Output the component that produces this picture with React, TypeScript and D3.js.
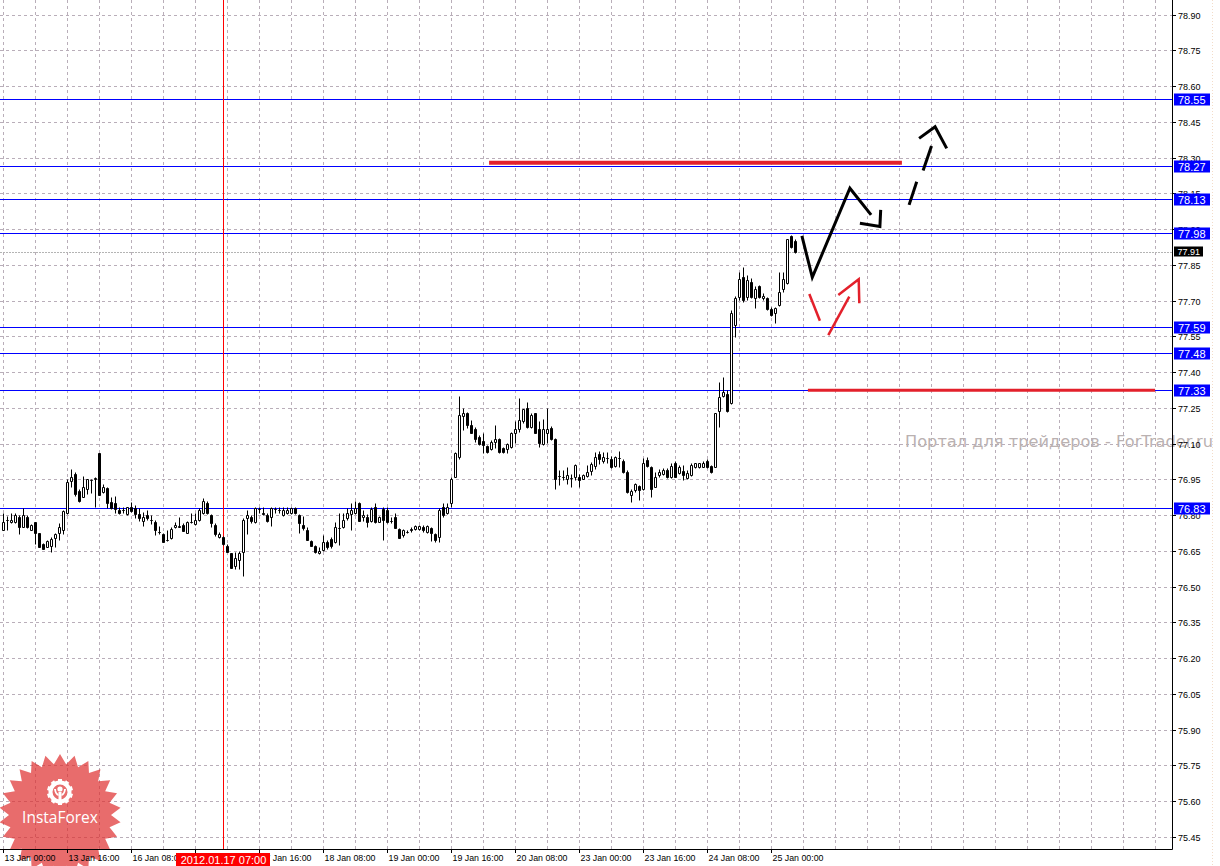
import React from 'react';
import * as d3 from 'd3';

// ---------- DATA (USD/JPY H1, 13 Jan 2012 00:00 .. 25 Jan 2012 06:00) ----------
const opens = [
  76.740, 76.780, 76.770, 76.770, 76.793, 76.752, 76.793, 76.740, 76.770, 76.724,
  76.679, 76.668, 76.673, 76.703, 76.726, 76.740, 76.808, 76.942, 76.975, 76.902,
  76.877, 76.910, 76.947, 76.950, 77.062, 76.899, 76.915, 76.857, 76.850, 76.822,
  76.823, 76.805, 76.836, 76.829, 76.806, 76.775, 76.801, 76.780, 76.770, 76.731,
  76.720, 76.696, 76.704, 76.749, 76.752, 76.759, 76.726, 76.770, 76.764, 76.780,
  76.808, 76.850, 76.801, 76.759, 76.707, 76.710, 76.672, 76.640, 76.588, 76.612,
  76.647, 76.789, 76.793, 76.770, 76.826, 76.808, 76.801, 76.791, 76.826, 76.822,
  76.801, 76.811, 76.808, 76.830, 76.800, 76.759, 76.740, 76.693, 76.670, 76.640,
  76.654, 76.689, 76.700, 76.689, 76.745, 76.749, 76.787, 76.805, 76.808, 76.850,
  76.791, 76.793, 76.777, 76.833, 76.773, 76.826, 76.822, 76.777, 76.793, 76.743,
  76.717, 76.730, 76.741, 76.742, 76.741, 76.752, 76.731, 76.745, 76.721, 76.707,
  76.833, 76.808, 76.850, 76.959, 77.045, 77.216, 77.227, 77.178, 77.160, 77.129,
  77.112, 77.090, 77.076, 77.108, 77.118, 77.083, 77.077, 77.087, 77.146, 77.160,
  77.196, 77.248, 77.171, 77.227, 77.160, 77.098, 77.143, 77.168, 77.118, 76.965,
  76.962, 76.950, 76.958, 76.959, 76.959, 76.954, 76.964, 76.987, 77.006, 77.055,
  77.029, 77.040, 77.035, 77.007, 77.040, 77.029, 76.983, 76.885, 76.906, 76.923,
  76.909, 77.032, 77.001, 76.920, 76.969, 76.973, 76.990, 76.959, 77.021, 76.979,
  76.987, 76.955, 76.968, 77.001, 77.001, 77.004, 77.029, 77.007, 77.004, 77.239,
  77.302, 77.309, 77.270, 77.598, 77.717, 77.798, 77.717, 77.780, 77.710, 77.762,
  77.710, 77.710, 77.664, 77.647, 77.682, 77.748, 77.776, 77.971, 77.952,
];
const highs = [
  76.808, 76.796, 76.808, 76.810, 76.800, 76.830, 76.799, 76.762, 76.773, 76.726,
  76.682, 76.696, 76.710, 76.726, 76.768, 76.822, 76.950, 76.996, 76.982, 76.910,
  76.964, 76.953, 76.953, 76.961, 77.062, 76.930, 76.920, 76.878, 76.880, 76.833,
  76.833, 76.836, 76.857, 76.843, 76.829, 76.815, 76.822, 76.801, 76.780, 76.754,
  76.724, 76.738, 76.752, 76.770, 76.791, 76.766, 76.777, 76.808, 76.808, 76.829,
  76.873, 76.859, 76.805, 76.766, 76.731, 76.713, 76.679, 76.643, 76.647, 76.651,
  76.787, 76.822, 76.799, 76.833, 76.833, 76.836, 76.808, 76.833, 76.833, 76.836,
  76.833, 76.833, 76.836, 76.836, 76.805, 76.796, 76.749, 76.698, 76.675, 76.668,
  76.717, 76.696, 76.710, 76.770, 76.808, 76.808, 76.829, 76.850, 76.859, 76.857,
  76.822, 76.805, 76.833, 76.850, 76.796, 76.836, 76.836, 76.794, 76.808, 76.747,
  76.741, 76.738, 76.752, 76.759, 76.759, 76.759, 76.759, 76.752, 76.726, 76.829,
  76.850, 76.852, 76.959, 77.066, 77.300, 77.248, 77.234, 77.199, 77.171, 77.136,
  77.146, 77.094, 77.115, 77.178, 77.122, 77.087, 77.101, 77.150, 77.195, 77.290,
  77.244, 77.276, 77.227, 77.230, 77.196, 77.202, 77.248, 77.174, 77.122, 76.989,
  76.989, 77.003, 76.975, 77.017, 76.975, 76.975, 77.010, 77.024, 77.066, 77.069,
  77.067, 77.067, 77.049, 77.049, 77.070, 77.035, 76.990, 76.909, 76.937, 76.927,
  77.039, 77.046, 77.007, 76.983, 76.993, 76.997, 76.997, 77.018, 77.029, 77.011,
  77.011, 76.990, 77.018, 77.021, 77.021, 77.029, 77.035, 77.011, 77.230, 77.361,
  77.382, 77.326, 77.661, 77.720, 77.822, 77.843, 77.808, 77.794, 77.762, 77.766,
  77.731, 77.717, 77.672, 77.675, 77.822, 77.822, 77.960, 77.975, 77.957,
];
const lows = [
  76.737, 76.740, 76.766, 76.768, 76.720, 76.749, 76.745, 76.737, 76.678, 76.665,
  76.658, 76.665, 76.647, 76.668, 76.698, 76.721, 76.805, 76.920, 76.882, 76.857,
  76.875, 76.889, 76.894, 76.833, 76.884, 76.892, 76.829, 76.825, 76.808, 76.805,
  76.808, 76.801, 76.815, 76.787, 76.777, 76.754, 76.780, 76.763, 76.717, 76.721,
  76.687, 76.693, 76.699, 76.745, 76.749, 76.732, 76.724, 76.768, 76.760, 76.777,
  76.805, 76.805, 76.752, 76.713, 76.703, 76.675, 76.644, 76.577, 76.573, 76.573,
  76.546, 76.721, 76.766, 76.766, 76.810, 76.801, 76.773, 76.754, 76.808, 76.810,
  76.797, 76.805, 76.805, 76.805, 76.726, 76.740, 76.696, 76.670, 76.642, 76.637,
  76.651, 76.657, 76.661, 76.685, 76.675, 76.745, 76.782, 76.738, 76.805, 76.775,
  76.777, 76.752, 76.773, 76.766, 76.770, 76.696, 76.766, 76.768, 76.745, 76.703,
  76.710, 76.724, 76.731, 76.738, 76.738, 76.731, 76.726, 76.693, 76.689, 76.689,
  76.794, 76.805, 76.833, 76.959, 77.038, 77.157, 77.164, 77.143, 77.108, 77.094,
  77.059, 77.059, 77.073, 77.080, 77.062, 77.059, 77.062, 77.080, 77.101, 77.150,
  77.185, 77.164, 77.168, 77.143, 77.087, 77.094, 77.101, 77.115, 76.908, 76.926,
  76.947, 76.933, 76.919, 76.947, 76.919, 76.950, 76.959, 76.968, 76.996, 77.015,
  77.018, 77.018, 76.997, 77.004, 77.004, 76.976, 76.892, 76.857, 76.899, 76.864,
  76.906, 77.004, 76.878, 76.917, 76.962, 76.969, 76.955, 76.955, 76.959, 76.973,
  76.948, 76.951, 76.965, 76.997, 76.997, 77.001, 76.997, 76.979, 77.001, 77.172,
  77.298, 77.235, 77.267, 77.549, 77.703, 77.696, 77.703, 77.710, 77.668, 77.710,
  77.703, 77.661, 77.636, 77.608, 77.678, 77.738, 77.770, 77.920, 77.901,
];
const closes = [
  76.770, 76.779, 76.780, 76.800, 76.749, 76.799, 76.749, 76.758, 76.726, 76.668,
  76.660, 76.690, 76.700, 76.721, 76.750, 76.819, 76.939, 76.959, 76.889, 76.860,
  76.920, 76.950, 76.946, 76.958, 76.885, 76.920, 76.850, 76.829, 76.827, 76.808,
  76.824, 76.833, 76.819, 76.806, 76.789, 76.791, 76.789, 76.779, 76.738, 76.730,
  76.689, 76.695, 76.741, 76.757, 76.753, 76.735, 76.771, 76.771, 76.779, 76.822,
  76.859, 76.808, 76.768, 76.720, 76.721, 76.678, 76.647, 76.580, 76.619, 76.640,
  76.780, 76.801, 76.777, 76.830, 76.825, 76.807, 76.777, 76.830, 76.825, 76.821,
  76.822, 76.822, 76.829, 76.808, 76.766, 76.745, 76.698, 76.673, 76.645, 76.651,
  76.689, 76.668, 76.672, 76.749, 76.746, 76.780, 76.808, 76.822, 76.829, 76.777,
  76.801, 76.770, 76.826, 76.770, 76.791, 76.780, 76.770, 76.776, 76.747, 76.705,
  76.738, 76.729, 76.740, 76.754, 76.756, 76.738, 76.754, 76.724, 76.696, 76.822,
  76.801, 76.836, 76.950, 77.059, 77.220, 77.227, 77.178, 77.146, 77.118, 77.097,
  77.094, 77.066, 77.108, 77.118, 77.066, 77.065, 77.097, 77.143, 77.160, 77.199,
  77.244, 77.171, 77.220, 77.146, 77.105, 77.160, 77.160, 77.118, 76.954, 76.964,
  76.961, 76.968, 76.957, 77.010, 76.947, 76.968, 76.981, 77.017, 77.045, 77.038,
  77.043, 77.039, 77.004, 77.043, 77.039, 76.983, 76.899, 76.903, 76.930, 76.906,
  77.018, 77.007, 76.909, 76.959, 76.983, 76.990, 76.959, 77.007, 76.962, 77.001,
  76.969, 76.979, 77.011, 77.018, 77.018, 77.018, 77.004, 76.983, 77.228, 77.298,
  77.319, 77.239, 77.647, 77.710, 77.790, 77.703, 77.787, 77.717, 77.748, 77.717,
  77.720, 77.664, 77.640, 77.668, 77.738, 77.790, 77.957, 77.927, 77.906,
];

const priceTicks = [
  75.45, 75.60, 75.75, 75.90, 76.05, 76.20, 76.35, 76.50, 76.65, 76.80, 76.95, 77.10,
  77.25, 77.40, 77.55, 77.70, 77.85, 78.00, 78.15, 78.30, 78.45, 78.60, 78.75, 78.90,
];
const timeTickBars = [0, 16, 32, 48, 64, 80, 96, 112, 128, 144, 160, 176, 192];
const timeTickLabels = [
  '13 Jan 00:00', '13 Jan 16:00', '16 Jan 08:00', '17 Jan 00:00', '17 Jan 16:00',
  '18 Jan 08:00', '19 Jan 00:00', '19 Jan 16:00', '20 Jan 08:00', '23 Jan 00:00',
  '23 Jan 16:00', '24 Jan 08:00', '25 Jan 00:00',
];
const levelPrices = [78.546, 78.266, 78.127, 77.983, 77.589, 77.479, 77.326, 76.832];
const bidPrice = 77.906;
const crosshairBar = 55;
const crosshairLabel = '2012.01.17 07:00';

// drawn objects: [bar, price]
const redLevels = [
  { from: 121.4, to: 224.6, price: 78.279, width: 4 },
  { from: 201.1, to: 287.9, price: 77.324, width: 3 },
];
const blackStrokes: [number, number][][] = [
  [[199.6, 77.972], [202.2, 77.798], [211.6, 78.172], [216.9, 78.060]],
  [[214.1, 78.025], [219.1, 78.011], [219.3, 78.081]],
  [[226.4, 78.102], [228.3, 78.199]],
  [[229.9, 78.246], [232.0, 78.349]],
  [[228.9, 78.381], [232.9, 78.430], [235.8, 78.339]],
];
const redStrokes: [number, number][][] = [
  [[201.45, 77.728], [204.1, 77.616]],
  [[206.2, 77.556], [211.45, 77.717]],
  [[208.7, 77.724], [213.8, 77.790], [213.95, 77.689]],
];

// ---------- LAYOUT ----------
const W = 1220;
const H = 866;
const PR = 1172; // right edge of plot (price axis line)
const PB = 849; // bottom edge of plot (time axis line)

const x = d3.scaleLinear().domain([0, 292]).range([3.5, 1171.5]);
const y = d3.scaleLinear().domain([75.45, 78.9]).range([837.0, 14.7]);
const py = (p: number) => Math.round(y(p)) + 0.5;

const GRID = '#b9aeb9';
const FONT = '"Liberation Sans", Arial, sans-serif';

function starPath(cx: number, cy: number, rOut: number, rIn: number, n: number) {
  const pts: [number, number][] = [];
  for (let k = 0; k < n * 2; k++) {
    const r = k % 2 === 0 ? rOut : rIn;
    const a = (Math.PI * k) / n - Math.PI / 2;
    pts.push([cx + r * Math.cos(a), cy + r * Math.sin(a)]);
  }
  return 'M' + pts.map((p) => p[0].toFixed(2) + ',' + p[1].toFixed(2)).join('L') + 'Z';
}

export default function App() {
  const line = d3
    .line<[number, number]>()
    .x((d) => x(d[0]))
    .y((d) => y(d[1]));

  const vGrid = d3.range(0, 37).map((k) => x(k * 8));
  const candles = opens.map((o, i) => ({ i, o, h: highs[i], l: lows[i], c: closes[i] }));
  const gearTeeth = d3.range(0, 10).map((k) => (k * 360) / 10);

  const boxL = x(crosshairBar) - 47.5;
  const boxR = x(crosshairBar) + 46.5;

  return (
    <svg
      width={W}
      height={H}
      style={{ position: 'absolute', left: 0, top: 0, display: 'block', background: '#fff' }}
      fontFamily={FONT}
    >
      <rect x={0} y={0} width={W} height={H} fill="#fff" />

      {/* grid */}
      {priceTicks.map((p) => (
        <line key={'hg' + p} x1={0} x2={PR} y1={py(p)} y2={py(p)} stroke={GRID} strokeDasharray="3,3" />
      ))}
      {vGrid.map((gx, k) => (
        <line key={'vg' + k} x1={gx} x2={gx} y1={0} y2={PB} stroke={GRID} strokeDasharray="3,3" />
      ))}

      {/* watermark */}
      <text
        x={905}
        y={447}
        fontFamily='"DejaVu Sans", sans-serif'
        fontSize={15}
        fill="#bab1b1"
        textLength={308}
        lengthAdjust="spacingAndGlyphs"
      >
        Портал для трейдеров - ForTrader.ru
      </text>

      {/* level lines */}
      {levelPrices.map((p) => (
        <line key={'lv' + p} x1={0} x2={PR} y1={py(p)} y2={py(p)} stroke="#0000ff" strokeWidth={1} />
      ))}

      {/* bid line */}
      <line x1={0} x2={PR} y1={py(bidPrice)} y2={py(bidPrice)} stroke="#b4b4b4" strokeDasharray="2,1" />

      {/* crosshair */}
      <line x1={x(crosshairBar)} x2={x(crosshairBar)} y1={0} y2={PB} stroke="#ff0000" strokeWidth={1} />

      {/* candles */}
      {candles.map((d) => {
        const cx = x(d.i);
        const top = Math.round(y(Math.max(d.o, d.c)));
        const bot = Math.round(y(Math.min(d.o, d.c)));
        const bull = d.c >= d.o;
        return (
          <g key={'c' + d.i}>
            <line x1={cx} x2={cx} y1={Math.round(y(d.h)) + 0.5} y2={Math.round(y(d.l)) + 0.5} stroke="#000" />
            <path
              d={`M${cx - 1},${top + 0.5}h2v${bot - top}h-2Z`}
              fill={bull ? '#fff' : '#000'}
              stroke="#000"
              strokeWidth={1}
            />
          </g>
        );
      })}

      {/* drawn objects */}
      {redLevels.map((r, k) => (
        <line
          key={'rl' + k}
          x1={x(r.from)}
          x2={x(r.to)}
          y1={y(r.price)}
          y2={y(r.price)}
          stroke="#e3202b"
          strokeWidth={r.width}
        />
      ))}
      {blackStrokes.map((s, k) => (
        <path key={'bs' + k} d={line(s) || ''} fill="none" stroke="#000" strokeWidth={3} strokeLinejoin="miter" />
      ))}
      {redStrokes.map((s, k) => (
        <path key={'rs' + k} d={line(s) || ''} fill="none" stroke="#e3202b" strokeWidth={2.5} strokeLinejoin="miter" />
      ))}

      {/* logo */}
      <g>
        <path d={starPath(60, 815, 61, 51, 26)} fill="rgb(222,45,45)" fillOpacity={0.7} />
        <g transform="translate(60,792)" fill="#fff">
          {gearTeeth.map((a) => (
            <rect key={'gt' + a} x={-2} y={-13} width={4} height={5} transform={`rotate(${a})`} />
          ))}
          <circle r={9.5} fill="none" stroke="#fff" strokeWidth={4} />
          <circle cx={0} cy={-3} r={2.6} />
          <rect x={-1.5} y={0} width={3} height={9} />
          <path d="M-6,-3 Q-5,3 -1.5,4 L-1.5,2 Q-4,1 -4,-3Z" />
          <path d="M6,-3 Q5,3 1.5,4 L1.5,2 Q4,1 4,-3Z" />
        </g>
        <text x={60} y={823} textAnchor="middle" fontSize={15.5} fill="#fff" fontFamily='"Open Sans", "Liberation Sans", sans-serif'>
          InstaForex
        </text>
      </g>

      {/* axes */}
      <line x1={PR + 0.5} x2={PR + 0.5} y1={0} y2={PB + 0.5} stroke="#000" />
      <line x1={0} x2={PR + 0.5} y1={PB + 0.5} y2={PB + 0.5} stroke="#000" />
      <line x1={1212.5} x2={1212.5} y1={0} y2={H} stroke="#f3dcc8" strokeDasharray="1,2" />

      {priceTicks.map((p) => (
        <g key={'pt' + p}>
          <line x1={PR} x2={PR + 4} y1={py(p)} y2={py(p)} stroke="#000" />
          <text x={1178} y={py(p) + 3.2} fontSize={9} fill="#000">
            {p.toFixed(2)}
          </text>
        </g>
      ))}

      {timeTickBars.map((b, k) => {
        const tx = x(b) + 1;
        const hidden = tx >= boxL && tx + 51 <= boxR;
        return (
          <g key={'tt' + b}>
            <line x1={x(b)} x2={x(b)} y1={PB} y2={PB + 4} stroke="#000" />
            {!hidden && (
              <text x={tx} y={861} fontSize={9} fill="#000" textLength={51} lengthAdjust="spacingAndGlyphs">
                {timeTickLabels[k]}
              </text>
            )}
          </g>
        );
      })}

      {/* level labels */}
      {levelPrices.map((p) => (
        <g key={'ll' + p}>
          <rect x={1174} y={Math.round(y(p)) - 5.5} width={36} height={12} fill="#0000ff" />
          <text x={1178} y={Math.round(y(p)) + 4.5} fontSize={11} fill="#fff">
            {p.toFixed(2)}
          </text>
        </g>
      ))}
      <g>
        <rect x={1174} y={Math.round(y(bidPrice)) - 5.5} width={29} height={10} fill="#000" />
        <text x={1177.5} y={Math.round(y(bidPrice)) + 3.3} fontSize={9} fill="#fff">
          {bidPrice.toFixed(2)}
        </text>
      </g>

      {/* crosshair time label */}
      <rect x={boxL} y={853} width={94} height={14} fill="#ff0000" />
      <text x={x(crosshairBar)} y={864} textAnchor="middle" fontSize={11} fill="#fff">
        {crosshairLabel}
      </text>
    </svg>
  );
}
